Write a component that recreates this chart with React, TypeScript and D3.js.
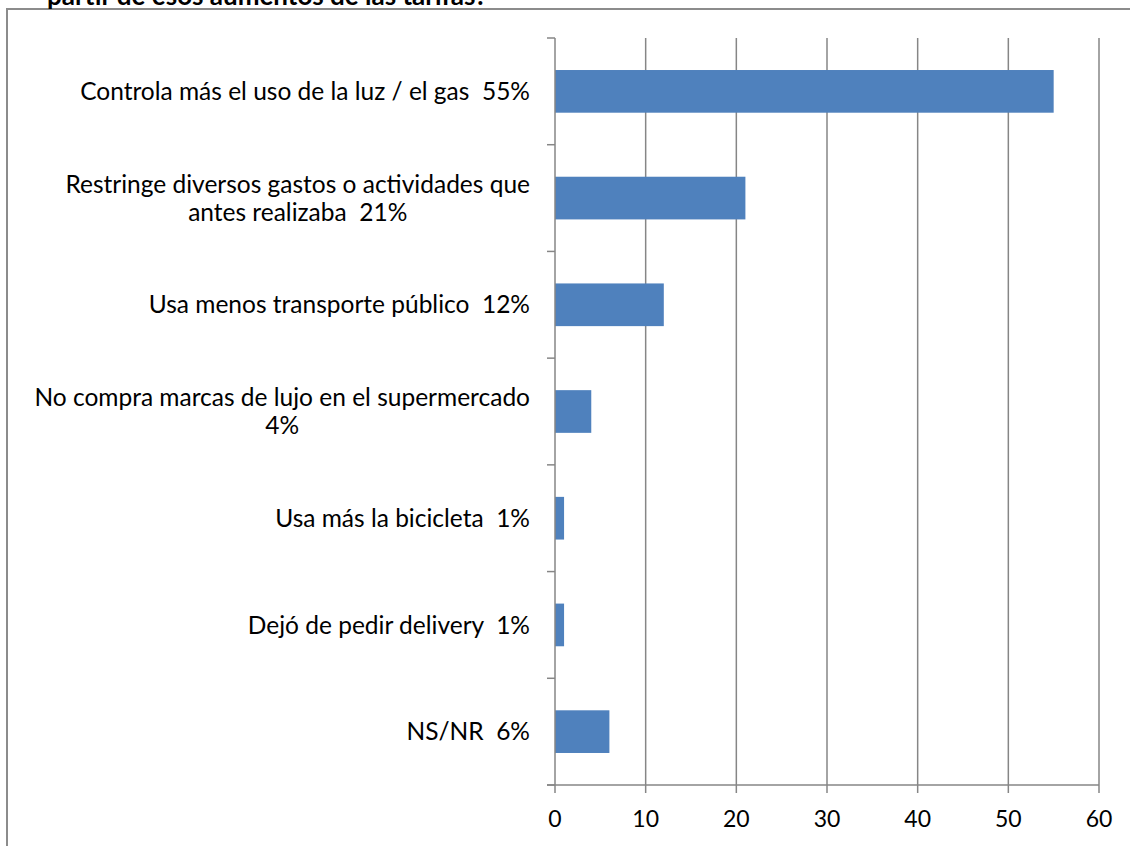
import React, { useEffect, useRef } from 'react';
import * as d3 from 'd3';

const categories = [
  ['Controla más el uso de la luz / el gas  55%'],
  ['Restringe diversos gastos o actividades que', 'antes realizaba  21%'],
  ['Usa menos transporte público  12%'],
  ['No compra marcas de lujo en el supermercado', '4%'],
  ['Usa más la bicicleta  1%'],
  ['Dejó de pedir delivery  1%'],
  ['NS/NR  6%']
];
const values = [55, 21, 12, 4, 1, 1, 6];
const xTicks = [0, 10, 20, 30, 40, 50, 60];
const title = 'partir de esos aumentos de las tarifas?';

export default function App(): JSX.Element {
  const svgRef = useRef<SVGSVGElement>(null);

  useEffect(() => {
    const svgEle = svgRef.current;
    if (svgEle == null) {
      return;
    }
    const W = 1130;
    const H = 846;
    const GRID = '#868686';
    const BAR = '#4f81bd';
    const FONT = 'Lato, "Open Sans", sans-serif';

    const svg = d3.select(svgEle);
    svg.selectAll('*').remove();

    const margin = { top: 38, right: 31, bottom: 61, left: 555 };

    const x = d3
      .scaleLinear()
      .domain([0, 60])
      .range([margin.left, W - margin.right]);
    const y = d3
      .scaleBand()
      .domain(categories.map((_, i) => String(i)))
      .range([margin.top, H - margin.bottom])
      .paddingInner(0.6)
      .paddingOuter(0.3);
    const yEdges = d3.range(categories.length + 1).map((i) => margin.top + (i * (H - margin.bottom - margin.top)) / categories.length);

    // frame (left + top only, rest is cut off)
    svg.append('line').attr('x1', 7).attr('x2', 7).attr('y1', 9).attr('y2', H).attr('stroke', '#8c8c8c').attr('stroke-width', 2);
    svg.append('line').attr('x1', 6).attr('x2', W).attr('y1', 9).attr('y2', 9).attr('stroke', '#8c8c8c').attr('stroke-width', 2);

    // title, cut by the top of the picture as in the source
    svg
      .append('text')
      .attr('x', 47)
      .attr('y', 5)
      .attr('font-family', FONT)
      .attr('font-weight', 'bold')
      .attr('font-size', 26)
      .attr('fill', '#000')
      .text(title);

    // vertical gridlines
    svg
      .selectAll('.grid')
      .data(xTicks.slice(1))
      .enter()
      .append('line')
      .attr('x1', (d) => x(d))
      .attr('x2', (d) => x(d))
      .attr('y1', margin.top)
      .attr('y2', H - margin.bottom + 8)
      .attr('stroke', GRID)
      .attr('stroke-width', 1.5);

    // bars
    svg
      .selectAll('.bar')
      .data(values)
      .enter()
      .append('rect')
      .attr('x', x(0))
      .attr('y', (_, i) => y(String(i)) || 0)
      .attr('width', (d) => x(d) - x(0))
      .attr('height', y.bandwidth())
      .attr('fill', BAR);

    // y axis line + ticks
    svg.append('line').attr('x1', x(0)).attr('x2', x(0)).attr('y1', margin.top).attr('y2', H - margin.bottom + 8).attr('stroke', GRID).attr('stroke-width', 1.5);
    svg
      .selectAll('.ytick')
      .data(yEdges)
      .enter()
      .append('line')
      .attr('x1', x(0) - 8)
      .attr('x2', x(0))
      .attr('y1', (d) => d)
      .attr('y2', (d) => d)
      .attr('stroke', GRID)
      .attr('stroke-width', 1.5);

    // x axis line
    svg.append('line').attr('x1', x(0) - 8).attr('x2', x(60)).attr('y1', H - margin.bottom).attr('y2', H - margin.bottom).attr('stroke', GRID).attr('stroke-width', 1.5);

    // x tick labels
    svg
      .selectAll('.xlab')
      .data(xTicks)
      .enter()
      .append('text')
      .attr('x', (d) => x(d))
      .attr('y', H - margin.bottom + 42)
      .attr('text-anchor', 'middle')
      .attr('font-family', FONT)
      .attr('font-size', 23)
      .attr('fill', '#000')
      .text((d) => d);

    // category labels, centered block right-aligned to the axis
    const lineH = 28;
    categories.forEach((lines, i) => {
      const cy = (y(String(i)) || 0) + y.bandwidth() / 2;
      const g = svg.append('g');
      const texts = g
        .selectAll('text')
        .data(lines)
        .enter()
        .append('text')
        .attr('y', (_, j) => cy + (j - (lines.length - 1) / 2) * lineH)
        .attr('dy', '0.35em')
        .attr('text-anchor', 'middle')
        .attr('font-family', FONT)
        .attr('font-size', 24.5)
        .attr('fill', '#000')
        .style('white-space', 'pre')
        .text((d) => d);
      let maxW = 0;
      texts.each(function () {
        maxW = Math.max(maxW, (this as SVGTextElement).getComputedTextLength());
      });
      texts.attr('x', x(0) - 25 - maxW / 2);
    });
  });

  return (
    <svg
      ref={svgRef}
      width={1130}
      height={846}
      style={{ position: 'absolute', left: 0, top: 0, background: '#fff' }}
    />
  );
}
